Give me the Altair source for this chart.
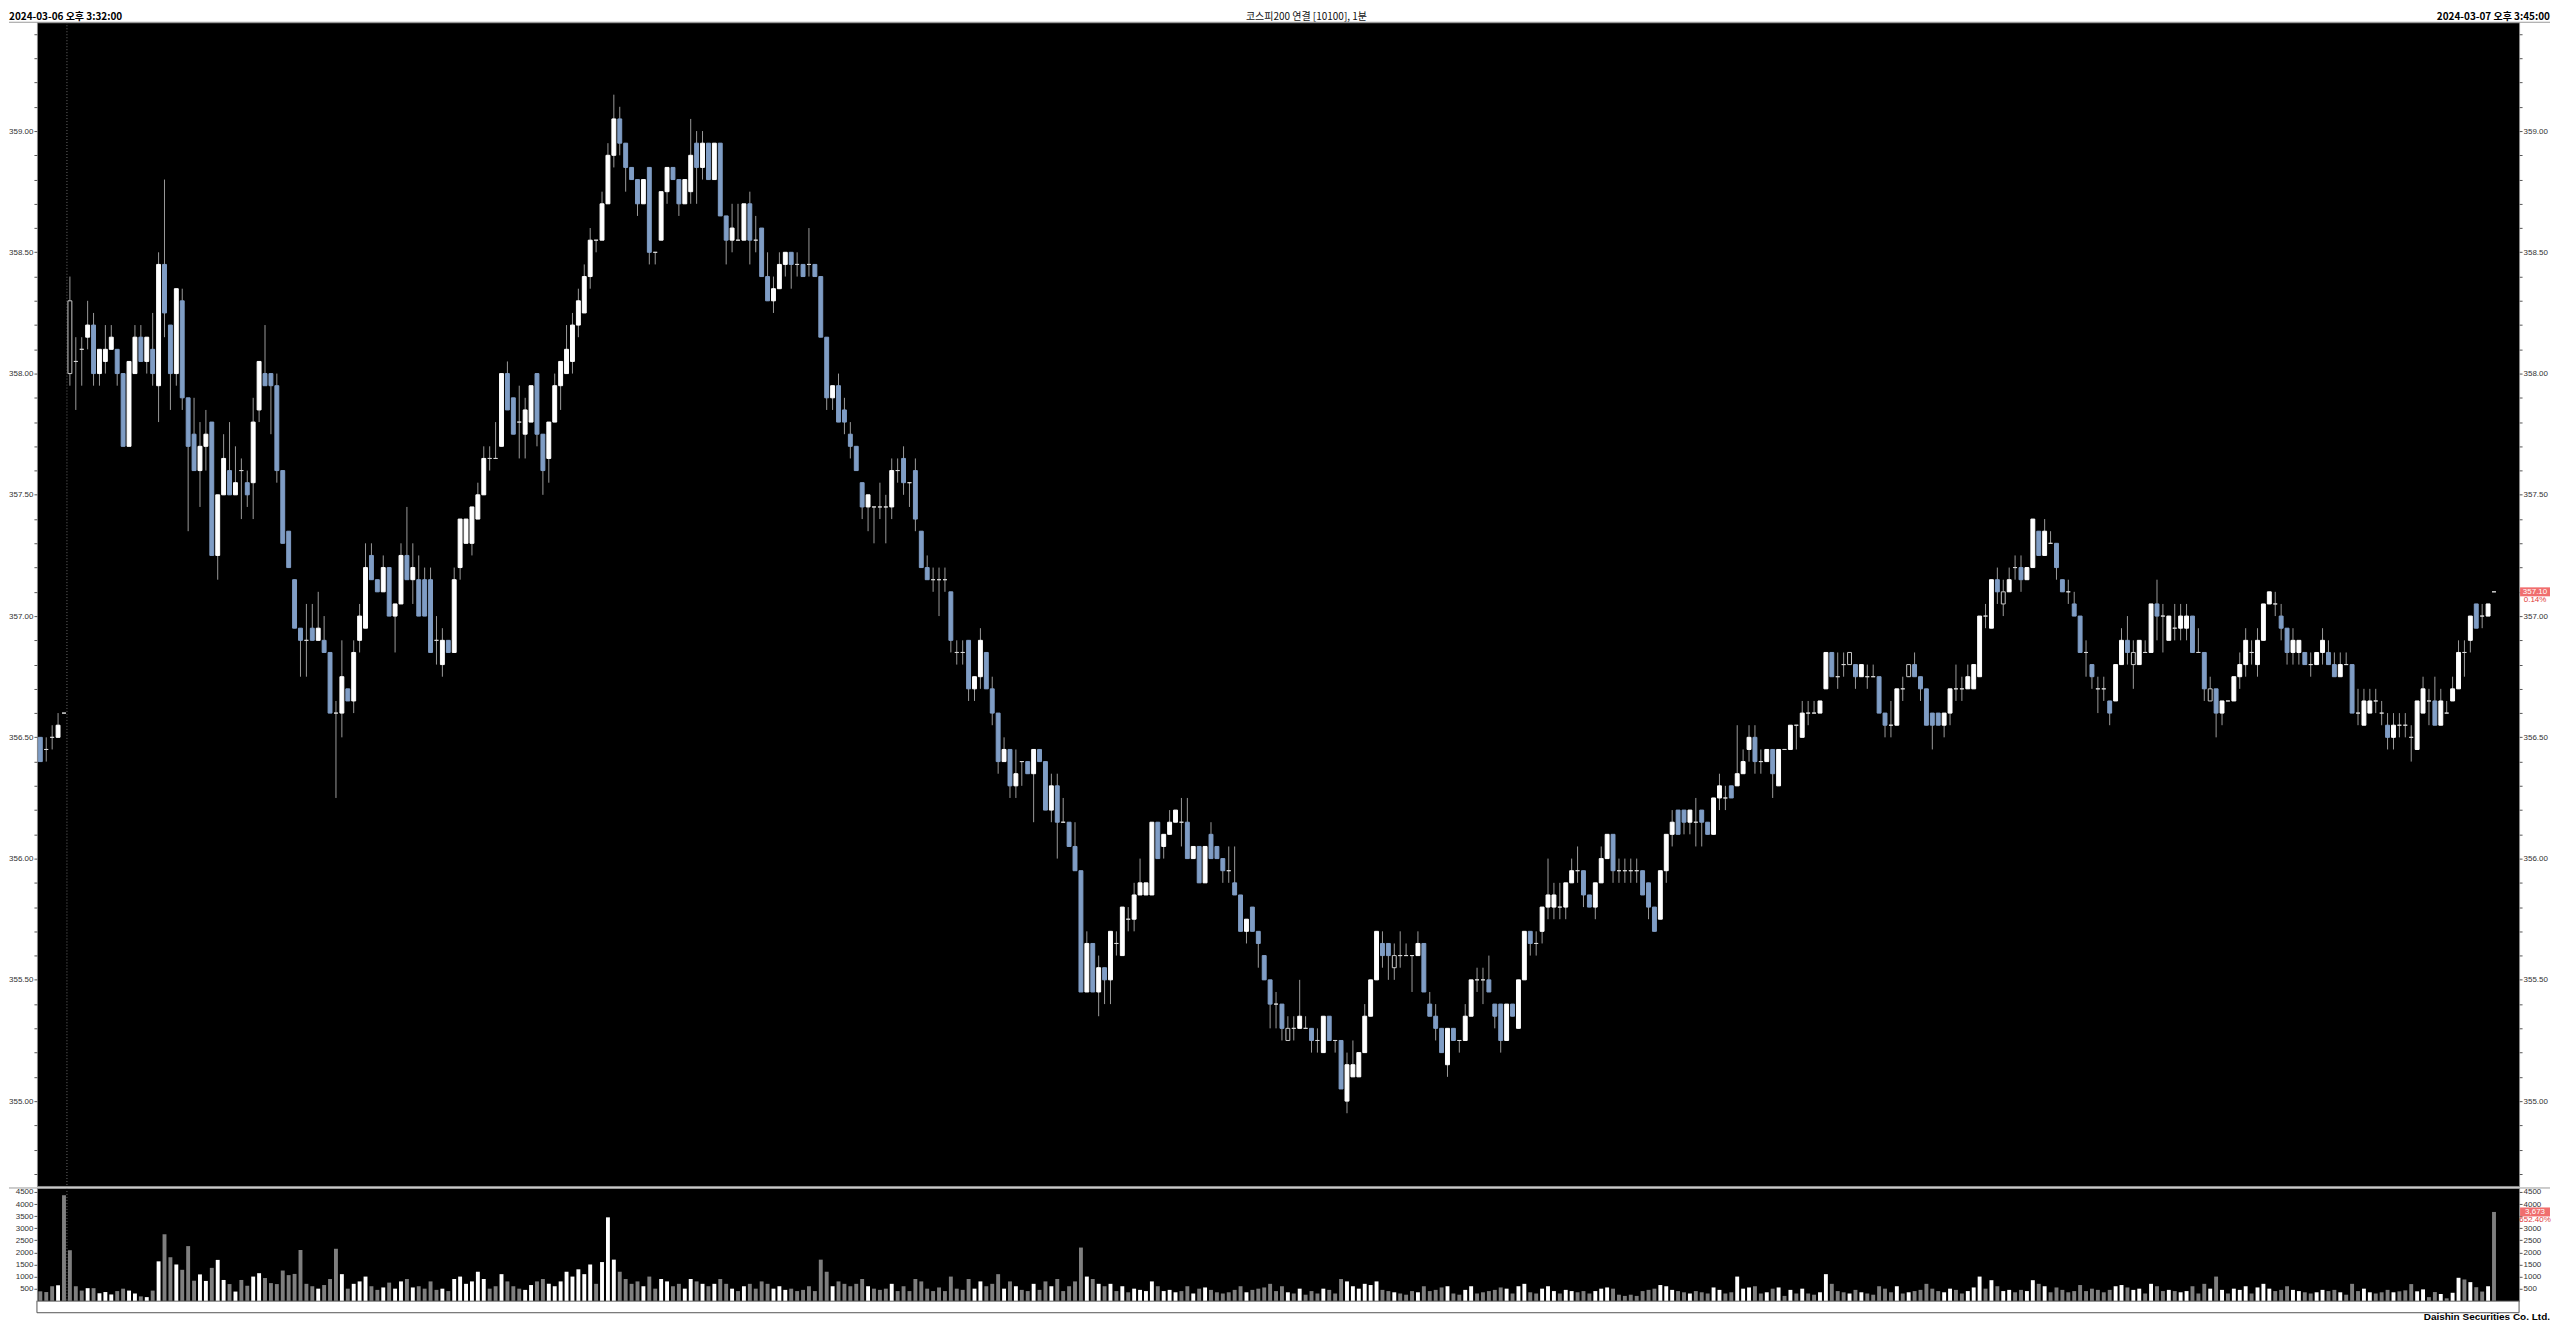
import altair as alt
import pandas as pd

# ---------------- values ----------------
opens = [
    356.50, 356.45, 356.50, 356.50, 356.60, 358.30, 358.05, 358.10, 358.15, 358.20, 358.00, 358.05, 358.10, 358.10, 358.00, 357.70, 358.00, 358.15, 358.05, 358.10,
    357.95, 358.45, 358.20, 358.00, 358.30, 357.90, 357.75, 357.60, 357.70, 357.80, 357.25, 357.50, 357.60, 357.50, 357.60, 357.55, 357.55, 357.85, 358.00, 358.00,
    357.95, 357.60, 357.35, 357.15, 356.95, 356.90, 356.95, 356.90, 356.90, 356.85, 356.60, 356.60, 356.70, 356.65, 356.90, 356.95, 357.25, 357.15, 357.10, 357.20,
    357.00, 357.05, 357.25, 357.15, 357.15, 357.15, 357.15, 356.90, 356.80, 356.90, 356.85, 357.20, 357.30, 357.30, 357.40, 357.50, 357.65, 357.65, 357.70, 358.00,
    357.90, 357.80, 357.75, 357.80, 358.00, 357.75, 357.65, 357.80, 357.95, 358.00, 358.05, 358.20, 358.25, 358.40, 358.55, 358.55, 358.70, 358.90, 359.05, 358.95,
    358.85, 358.80, 358.70, 358.85, 358.50, 358.55, 358.75, 358.85, 358.80, 358.70, 358.75, 358.95, 358.85, 358.95, 358.80, 358.95, 358.65, 358.55, 358.55, 358.55,
    358.70, 358.55, 358.60, 358.40, 358.30, 358.35, 358.45, 358.50, 358.45, 358.45, 358.45, 358.45, 358.40, 358.15, 357.90, 357.95, 357.85, 357.75, 357.70, 357.55,
    357.45, 357.45, 357.45, 357.45, 357.45, 357.60, 357.65, 357.55, 357.60, 357.35, 357.20, 357.15, 357.15, 357.15, 357.10, 356.85, 356.85, 356.90, 356.70, 356.75,
    356.85, 356.70, 356.60, 356.40, 356.45, 356.30, 356.40, 356.40, 356.35, 356.45, 356.40, 356.20, 356.30, 356.15, 356.15, 356.05, 355.95, 355.45, 355.65, 355.45,
    355.55, 355.50, 355.65, 355.60, 355.75, 355.75, 355.85, 355.85, 355.85, 356.15, 356.05, 356.10, 356.15, 356.15, 356.15, 356.00, 356.05, 355.90, 356.10, 356.05,
    356.00, 355.95, 355.90, 355.85, 355.70, 355.80, 355.70, 355.60, 355.50, 355.40, 355.40, 355.25, 355.30, 355.30, 355.30, 355.30, 355.25, 355.20, 355.35, 355.25,
    355.25, 355.00, 355.10, 355.10, 355.20, 355.35, 355.50, 355.65, 355.65, 355.55, 355.60, 355.60, 355.60, 355.60, 355.65, 355.40, 355.35, 355.30, 355.15, 355.30,
    355.25, 355.25, 355.35, 355.50, 355.50, 355.50, 355.40, 355.40, 355.25, 355.40, 355.30, 355.50, 355.70, 355.65, 355.70, 355.80, 355.80, 355.80, 355.80, 355.90,
    355.95, 355.95, 355.85, 355.80, 355.90, 356.00, 356.10, 355.95, 355.95, 355.95, 355.95, 355.95, 355.90, 355.80, 355.75, 355.95, 356.10, 356.20, 356.20, 356.15,
    356.15, 356.20, 356.15, 356.10, 356.25, 356.25, 356.30, 356.30, 356.35, 356.45, 356.50, 356.40, 356.40, 356.45, 356.30, 356.45, 356.45, 356.55, 356.50, 356.60,
    356.60, 356.60, 356.70, 356.85, 356.75, 356.80, 356.80, 356.80, 356.75, 356.75, 356.75, 356.75, 356.60, 356.55, 356.55, 356.70, 356.75, 356.80, 356.75, 356.70,
    356.60, 356.60, 356.55, 356.60, 356.70, 356.70, 356.70, 356.70, 356.75, 357.00, 356.95, 357.15, 357.05, 357.10, 357.20, 357.20, 357.15, 357.20, 357.35, 357.25,
    357.30, 357.30, 357.15, 357.10, 357.05, 357.00, 356.85, 356.80, 356.70, 356.70, 356.65, 356.65, 356.80, 356.90, 356.80, 356.80, 356.85, 356.85, 357.05, 357.00,
    356.90, 356.95, 356.95, 356.95, 357.00, 356.85, 356.85, 356.65, 356.70, 356.60, 356.65, 356.65, 356.75, 356.80, 356.85, 356.80, 356.90, 357.05, 357.05, 357.00,
    356.95, 356.85, 356.85, 356.85, 356.80, 356.80, 356.85, 356.85, 356.80, 356.75, 356.80, 356.80, 356.60, 356.55, 356.60, 356.65, 356.60, 356.55, 356.50, 356.55,
    356.55, 356.50, 356.45, 356.60, 356.65, 356.65, 356.55, 356.60, 356.65, 356.70, 356.85, 356.90, 357.05, 357.00, 357.00, 357.10,
]
highs = [
    356.50, 356.50, 356.55, 356.60, 356.60, 358.40, 358.15, 358.15, 358.30, 358.25, 358.10, 358.20, 358.20, 358.10, 358.00, 358.05, 358.20, 358.20, 358.15, 358.25,
    358.50, 358.80, 358.20, 358.35, 358.35, 357.90, 357.90, 357.80, 357.85, 357.80, 357.50, 357.75, 357.80, 357.70, 357.65, 357.60, 357.90, 358.05, 358.20, 358.00,
    358.00, 357.60, 357.35, 357.15, 356.95, 357.05, 357.05, 357.10, 357.00, 356.85, 356.65, 356.90, 356.70, 356.90, 357.05, 357.30, 357.30, 357.15, 357.25, 357.20,
    357.05, 357.30, 357.45, 357.30, 357.25, 357.20, 357.20, 357.00, 356.95, 356.90, 357.20, 357.40, 357.40, 357.45, 357.55, 357.70, 357.70, 357.80, 358.00, 358.05,
    357.90, 357.95, 357.90, 357.95, 358.00, 357.75, 357.80, 358.00, 358.05, 358.20, 358.25, 358.35, 358.45, 358.60, 358.55, 358.75, 358.95, 359.15, 359.10, 358.95,
    358.85, 358.80, 358.80, 358.85, 358.50, 358.75, 358.85, 358.85, 358.80, 358.80, 359.05, 359.00, 359.00, 358.95, 358.95, 358.95, 358.65, 358.70, 358.70, 358.70,
    358.75, 358.65, 358.60, 358.50, 358.40, 358.50, 358.50, 358.50, 358.50, 358.45, 358.60, 358.45, 358.40, 358.15, 357.95, 358.00, 357.90, 357.80, 357.70, 357.55,
    357.50, 357.45, 357.55, 357.50, 357.65, 357.65, 357.70, 357.55, 357.65, 357.35, 357.25, 357.20, 357.20, 357.20, 357.10, 356.90, 356.90, 356.90, 356.75, 356.95,
    356.85, 356.75, 356.60, 356.50, 356.45, 356.45, 356.40, 356.40, 356.45, 356.45, 356.40, 356.35, 356.35, 356.25, 356.15, 356.15, 355.95, 355.70, 355.65, 355.60,
    355.55, 355.70, 355.70, 355.80, 355.80, 355.90, 356.00, 355.90, 356.15, 356.15, 356.10, 356.20, 356.20, 356.25, 356.25, 356.05, 356.05, 356.05, 356.15, 356.05,
    356.00, 356.05, 356.05, 355.85, 355.75, 355.80, 355.70, 355.60, 355.50, 355.45, 355.40, 355.35, 355.35, 355.50, 355.35, 355.30, 355.30, 355.35, 355.35, 355.25,
    355.25, 355.20, 355.25, 355.20, 355.40, 355.50, 355.70, 355.70, 355.65, 355.65, 355.70, 355.65, 355.60, 355.70, 355.65, 355.45, 355.40, 355.30, 355.30, 355.30,
    355.25, 355.40, 355.50, 355.55, 355.55, 355.60, 355.40, 355.40, 355.40, 355.40, 355.50, 355.70, 355.70, 355.70, 355.80, 356.00, 355.90, 355.90, 355.90, 356.00,
    356.05, 355.95, 355.85, 355.90, 356.05, 356.10, 356.10, 356.00, 356.00, 356.00, 356.00, 355.95, 355.90, 355.80, 355.95, 356.10, 356.20, 356.20, 356.20, 356.20,
    356.25, 356.20, 356.15, 356.25, 356.35, 356.30, 356.30, 356.55, 356.45, 356.55, 356.55, 356.45, 356.45, 356.45, 356.45, 356.45, 356.55, 356.55, 356.65, 356.65,
    356.65, 356.65, 356.85, 356.85, 356.85, 356.85, 356.85, 356.80, 356.80, 356.80, 356.80, 356.75, 356.60, 356.65, 356.70, 356.75, 356.80, 356.85, 356.75, 356.70,
    356.60, 356.60, 356.60, 356.70, 356.80, 356.75, 356.80, 356.80, 357.00, 357.05, 357.15, 357.20, 357.15, 357.20, 357.25, 357.25, 357.20, 357.40, 357.35, 357.40,
    357.35, 357.30, 357.15, 357.15, 357.10, 357.00, 356.90, 356.80, 356.75, 356.75, 356.65, 356.80, 356.95, 357.00, 356.90, 356.90, 356.90, 357.05, 357.15, 357.05,
    357.00, 357.05, 357.05, 357.05, 357.00, 356.95, 356.85, 356.75, 356.70, 356.65, 356.65, 356.75, 356.85, 356.95, 356.90, 356.95, 357.05, 357.10, 357.10, 357.05,
    356.95, 356.95, 356.90, 356.85, 356.85, 356.85, 356.95, 356.90, 356.85, 356.85, 356.85, 356.80, 356.70, 356.70, 356.70, 356.70, 356.65, 356.60, 356.60, 356.60,
    356.60, 356.55, 356.65, 356.75, 356.70, 356.75, 356.70, 356.65, 356.75, 356.90, 356.90, 357.00, 357.05, 357.05, 357.05, 357.10,
]
lows = [
    356.40, 356.40, 356.45, 356.50, 356.60, 357.95, 357.85, 357.95, 358.10, 357.95, 357.95, 358.00, 358.10, 357.95, 357.70, 357.70, 358.00, 358.05, 358.00, 357.95,
    357.80, 358.15, 357.85, 357.95, 357.85, 357.35, 357.60, 357.45, 357.60, 357.25, 357.15, 357.50, 357.50, 357.50, 357.40, 357.45, 357.40, 357.80, 357.95, 357.75,
    357.55, 357.30, 357.20, 356.95, 356.75, 356.75, 356.90, 356.90, 356.85, 356.60, 356.25, 356.50, 356.65, 356.60, 356.85, 356.95, 357.15, 357.10, 357.10, 357.00,
    356.85, 357.05, 357.15, 357.05, 357.00, 357.00, 356.85, 356.80, 356.75, 356.85, 356.85, 357.15, 357.30, 357.25, 357.40, 357.50, 357.60, 357.65, 357.70, 357.85,
    357.75, 357.65, 357.65, 357.80, 357.70, 357.50, 357.55, 357.80, 357.85, 358.00, 358.00, 358.15, 358.25, 358.35, 358.50, 358.55, 358.70, 358.85, 358.90, 358.75,
    358.80, 358.65, 358.70, 358.45, 358.45, 358.55, 358.70, 358.80, 358.65, 358.70, 358.70, 358.70, 358.80, 358.80, 358.80, 358.65, 358.45, 358.50, 358.55, 358.55,
    358.45, 358.50, 358.40, 358.30, 358.25, 358.35, 358.40, 358.35, 358.40, 358.40, 358.40, 358.40, 358.15, 357.85, 357.85, 357.80, 357.75, 357.65, 357.60, 357.40,
    357.35, 357.30, 357.40, 357.30, 357.40, 357.55, 357.50, 357.45, 357.35, 357.20, 357.15, 357.10, 357.00, 357.10, 356.85, 356.80, 356.80, 356.65, 356.65, 356.70,
    356.70, 356.55, 356.35, 356.40, 356.25, 356.25, 356.30, 356.35, 356.15, 356.40, 356.20, 356.15, 356.00, 356.15, 356.05, 355.95, 355.45, 355.45, 355.45, 355.35,
    355.40, 355.40, 355.60, 355.60, 355.70, 355.70, 355.85, 355.85, 355.85, 356.00, 356.00, 356.10, 356.15, 356.05, 356.00, 356.00, 355.90, 355.90, 356.00, 356.00,
    355.90, 355.90, 355.85, 355.70, 355.65, 355.70, 355.55, 355.50, 355.30, 355.30, 355.25, 355.25, 355.25, 355.30, 355.30, 355.20, 355.20, 355.20, 355.25, 355.20,
    355.05, 354.95, 355.10, 355.10, 355.20, 355.35, 355.50, 355.55, 355.50, 355.50, 355.55, 355.60, 355.45, 355.60, 355.45, 355.35, 355.25, 355.20, 355.10, 355.25,
    355.20, 355.25, 355.35, 355.45, 355.40, 355.45, 355.30, 355.20, 355.25, 355.35, 355.30, 355.50, 355.60, 355.60, 355.65, 355.75, 355.75, 355.75, 355.75, 355.90,
    355.90, 355.80, 355.80, 355.75, 355.90, 356.00, 355.90, 355.90, 355.90, 355.90, 355.90, 355.85, 355.75, 355.70, 355.75, 355.90, 356.05, 356.10, 356.10, 356.10,
    356.05, 356.05, 356.10, 356.10, 356.20, 356.20, 356.25, 356.30, 356.35, 356.40, 356.35, 356.35, 356.40, 356.25, 356.30, 356.45, 356.45, 356.45, 356.50, 356.55,
    356.60, 356.60, 356.70, 356.75, 356.70, 356.75, 356.80, 356.70, 356.75, 356.70, 356.75, 356.60, 356.50, 356.50, 356.55, 356.65, 356.75, 356.75, 356.65, 356.55,
    356.45, 356.55, 356.50, 356.55, 356.65, 356.65, 356.70, 356.70, 356.75, 356.95, 356.95, 357.05, 357.00, 357.10, 357.15, 357.10, 357.15, 357.20, 357.25, 357.25,
    357.30, 357.15, 357.10, 357.05, 357.00, 356.85, 356.75, 356.70, 356.60, 356.65, 356.55, 356.65, 356.80, 356.80, 356.70, 356.80, 356.85, 356.85, 356.90, 356.85,
    356.90, 356.90, 356.90, 356.90, 356.85, 356.85, 356.65, 356.65, 356.50, 356.55, 356.65, 356.65, 356.70, 356.75, 356.80, 356.75, 356.90, 357.05, 357.00, 356.90,
    356.80, 356.80, 356.80, 356.80, 356.75, 356.80, 356.80, 356.80, 356.75, 356.75, 356.80, 356.60, 356.55, 356.55, 356.60, 356.60, 356.55, 356.45, 356.45, 356.50,
    356.50, 356.40, 356.45, 356.60, 356.55, 356.55, 356.55, 356.60, 356.65, 356.70, 356.75, 356.85, 356.95, 356.95, 357.00, 357.10,
]
closes = [
    356.40, 356.45, 356.50, 356.55, 356.60, 358.00, 358.05, 358.10, 358.20, 358.00, 358.10, 358.10, 358.15, 358.00, 357.70, 358.05, 358.15, 358.05, 358.15, 358.00,
    358.45, 358.25, 358.00, 358.35, 357.90, 357.70, 357.60, 357.70, 357.75, 357.25, 357.50, 357.65, 357.50, 357.55, 357.60, 357.50, 357.80, 358.05, 357.95, 357.95,
    357.60, 357.30, 357.20, 356.95, 356.90, 356.90, 356.90, 356.95, 356.85, 356.60, 356.60, 356.75, 356.65, 356.85, 357.00, 357.20, 357.15, 357.10, 357.20, 357.00,
    357.05, 357.25, 357.15, 357.20, 357.00, 357.00, 356.85, 356.90, 356.90, 356.85, 357.15, 357.40, 357.40, 357.45, 357.50, 357.65, 357.65, 357.65, 358.00, 357.85,
    357.75, 357.80, 357.85, 357.95, 357.75, 357.60, 357.80, 357.95, 358.05, 358.10, 358.20, 358.30, 358.40, 358.55, 358.55, 358.70, 358.90, 359.05, 358.95, 358.85,
    358.80, 358.70, 358.80, 358.50, 358.50, 358.75, 358.85, 358.80, 358.70, 358.80, 358.90, 358.85, 358.95, 358.80, 358.95, 358.65, 358.55, 358.60, 358.55, 358.70,
    358.55, 358.55, 358.40, 358.30, 358.35, 358.45, 358.50, 358.45, 358.45, 358.40, 358.45, 358.40, 358.15, 357.90, 357.95, 357.80, 357.80, 357.70, 357.60, 357.45,
    357.50, 357.45, 357.45, 357.45, 357.60, 357.60, 357.55, 357.55, 357.40, 357.20, 357.15, 357.15, 357.15, 357.15, 356.90, 356.85, 356.85, 356.70, 356.75, 356.90,
    356.70, 356.60, 356.40, 356.45, 356.30, 356.35, 356.40, 356.35, 356.45, 356.40, 356.20, 356.30, 356.15, 356.15, 356.05, 355.95, 355.45, 355.65, 355.45, 355.55,
    355.50, 355.70, 355.65, 355.80, 355.75, 355.85, 355.90, 355.90, 356.15, 356.00, 356.10, 356.15, 356.20, 356.15, 356.00, 356.05, 355.90, 356.05, 356.00, 356.00,
    355.95, 355.95, 355.85, 355.70, 355.75, 355.70, 355.65, 355.50, 355.40, 355.40, 355.30, 355.30, 355.30, 355.35, 355.30, 355.25, 355.25, 355.35, 355.25, 355.25,
    355.05, 355.15, 355.15, 355.20, 355.35, 355.50, 355.70, 355.60, 355.60, 355.60, 355.60, 355.60, 355.60, 355.65, 355.45, 355.35, 355.30, 355.20, 355.30, 355.25,
    355.25, 355.35, 355.50, 355.50, 355.50, 355.45, 355.35, 355.25, 355.40, 355.35, 355.50, 355.70, 355.65, 355.65, 355.80, 355.85, 355.85, 355.80, 355.90, 355.95,
    355.95, 355.85, 355.80, 355.90, 356.00, 356.10, 355.95, 355.95, 355.95, 355.95, 355.95, 355.85, 355.80, 355.70, 355.95, 356.10, 356.15, 356.10, 356.15, 356.20,
    356.15, 356.15, 356.10, 356.25, 356.30, 356.25, 356.25, 356.35, 356.40, 356.50, 356.40, 356.40, 356.45, 356.35, 356.45, 356.45, 356.55, 356.55, 356.60, 356.60,
    356.60, 356.65, 356.85, 356.75, 356.75, 356.80, 356.85, 356.75, 356.80, 356.75, 356.75, 356.60, 356.55, 356.55, 356.70, 356.70, 356.80, 356.75, 356.70, 356.55,
    356.55, 356.55, 356.60, 356.70, 356.70, 356.70, 356.75, 356.80, 357.00, 357.00, 357.15, 357.10, 357.10, 357.15, 357.20, 357.15, 357.20, 357.40, 357.25, 357.35,
    357.30, 357.20, 357.10, 357.10, 357.00, 356.85, 356.85, 356.75, 356.70, 356.70, 356.60, 356.80, 356.90, 356.85, 356.85, 356.90, 356.85, 357.05, 357.00, 357.00,
    357.00, 356.95, 357.00, 357.00, 356.85, 356.85, 356.70, 356.70, 356.60, 356.65, 356.65, 356.75, 356.80, 356.90, 356.85, 356.90, 357.05, 357.10, 357.05, 356.95,
    356.85, 356.90, 356.90, 356.80, 356.80, 356.85, 356.90, 356.80, 356.75, 356.80, 356.80, 356.60, 356.60, 356.65, 356.65, 356.65, 356.60, 356.50, 356.55, 356.55,
    356.55, 356.50, 356.65, 356.70, 356.65, 356.55, 356.65, 356.60, 356.70, 356.85, 356.85, 357.00, 356.95, 357.00, 357.05, 357.10,
]
volumes = [
    390, 360, 600, 640, 4365, 2090, 600, 420, 520, 520, 310, 360, 260, 400, 500, 420, 300, 180, 150, 420,
    1630, 2750, 1800, 1500, 1280, 2260, 830, 1090, 820, 1360, 1690, 860, 690, 380, 860, 620, 1000, 1140, 940, 730,
    690, 1250, 1060, 1110, 2100, 700, 600, 500, 650, 900, 2150, 1100, 500, 700, 800, 1000, 600, 450, 550, 750,
    500, 800, 900, 550, 600, 500, 800, 450, 500, 400, 900, 1000, 700, 800, 1200, 900, 500, 600, 1100, 800,
    600, 500, 450, 650, 800, 900, 700, 600, 800, 1200, 1000, 1300, 1100, 1500, 700, 1600, 3450, 1700, 1200, 900,
    700, 800, 600, 1000, 500, 900, 800, 600, 700, 500, 900, 800, 700, 600, 700, 900, 700, 500, 400, 600,
    700, 500, 800, 700, 500, 600, 450, 500, 400, 450, 600, 400, 1700, 1200, 600, 800, 700, 600, 700, 900,
    600, 500, 450, 500, 700, 400, 600, 400, 900, 800, 500, 400, 550, 400, 1000, 500, 450, 900, 500, 800,
    600, 700, 1100, 500, 800, 600, 450, 400, 700, 450, 800, 600, 900, 400, 600, 800, 2200, 1000, 900, 700,
    600, 700, 400, 600, 350, 500, 450, 400, 800, 600, 400, 450, 350, 400, 600, 300, 500, 550, 450, 350,
    300, 350, 450, 600, 350, 450, 500, 550, 700, 400, 600, 350, 300, 500, 250, 400, 300, 500, 450, 300,
    900, 800, 600, 500, 700, 650, 800, 450, 400, 350, 300, 250, 400, 350, 600, 400, 450, 550, 600, 300,
    250, 450, 600, 300, 350, 400, 450, 550, 500, 300, 600, 700, 350, 300, 500, 600, 400, 300, 450, 400,
    350, 400, 300, 400, 500, 550, 500, 250, 200, 250, 200, 400, 450, 500, 650, 600, 450, 400, 350, 300,
    400, 350, 300, 550, 450, 300, 350, 1000, 500, 550, 600, 300, 350, 500, 550, 200, 450, 300, 500, 300,
    250, 350, 1100, 700, 400, 350, 300, 450, 350, 300, 250, 600, 500, 350, 600, 300, 350, 400, 450, 700,
    500, 400, 350, 500, 450, 300, 400, 550, 1000, 500, 850, 600, 400, 450, 350, 450, 400, 850, 700, 600,
    350, 550, 450, 350, 400, 650, 400, 500, 450, 350, 450, 600, 650, 550, 450, 500, 300, 700, 600, 400,
    450, 400, 350, 400, 600, 300, 700, 500, 1000, 450, 300, 500, 450, 600, 300, 550, 700, 500, 400, 450,
    600, 450, 400, 350, 300, 350, 450, 400, 450, 350, 250, 700, 400, 500, 350, 300, 350, 450, 350,
    390, 430, 690, 390, 470, 150, 360, 280, 100, 330, 950, 880, 770, 560, 380, 600, 3673,
]
hollow_bars = [5, 211, 229, 306, 316, 332, 354, 367]
date_change = [4.5]
x_tick_pos = [4.5, 19.5, 79.5, 139.5, 199.5, 259.5, 319.5, 379.5]
x_tick_labels = ["3/7", "9", "10", "11", "12", "13", "14", "15"]
volume_ticks = [500, 1000, 1500, 2000, 2500, 3000, 3500, 4000, 4500]
last_price = [357.10]
last_price_label = ["357.10"]
last_change = ["0.14%"]
last_volume = [3673]
last_volume_label = ["3,673"]
volume_change = ["652.40%"]
header_left = "2024-03-06 오후 3:32:00"
header_title = "코스피200 연결 [10100], 1분"
header_right = "2024-03-07 오후 3:45:00"
footer = "Daishin Securities Co. Ltd."

n = len(closes)
assert len(opens) == n and len(highs) == n and len(lows) == n and len(volumes) == n, (
    len(opens), len(highs), len(lows), len(closes), len(volumes))

# ---------------- layout / style ----------------
W, HP, HV = 2487, 1166, 113
x_domain = [-0.574, 419.24]
price_domain = [354.650, 359.4486]
volume_domain = [0, 4665]
price_ticks = [round(354.7 + 0.1 * k, 1) for k in range(48)]
FONT = "Liberation Sans"
KFONT = "Noto Sans CJK KR"
UP_COL, DOWN_COL = "#ffffff", "#7f9dc5"
FILL = {"up": UP_COL, "down": DOWN_COL, "flat": "#d8d8d8", "hollow": "#000000"}
STROKE = {"up": UP_COL, "down": DOWN_COL, "flat": "#d8d8d8", "hollow": "#c8c8c8"}

kinds = []
for k in range(n):
    if k in hollow_bars:
        kinds.append("hollow")
    elif closes[k] > opens[k]:
        kinds.append("up")
    elif closes[k] < opens[k]:
        kinds.append("down")
    else:
        kinds.append("flat")

df = pd.DataFrame({
    "i": list(range(n)), "open": opens, "high": highs, "low": lows,
    "close": closes, "volume": volumes,
})
df["fillc"] = [FILL[k] for k in kinds]
df["strokec"] = [STROKE[k] for k in kinds]
df["volc"] = ["#ffffff" if c > o else "#7f7f7f" for o, c in zip(opens, closes)]
df["x1"] = df["i"] - 0.33
df["x2"] = df["i"] + 0.33
df["zero"] = 0

xs = alt.Scale(domain=x_domain, nice=False, zero=False)
ys = alt.Scale(domain=price_domain, nice=False, zero=False)
vs = alt.Scale(domain=volume_domain, nice=False, zero=False)

price_label_expr = "(abs(datum.value * 2 - round(datum.value * 2)) < 0.001) ? format(datum.value, '.2f') : ''"


def price_axis(orient):
    return alt.Axis(orient=orient, values=price_ticks, labelExpr=price_label_expr, tickSize=3,
                    tickColor="#555555", domain=False, grid=False, title=None, labelFont=FONT,
                    labelFontSize=8, labelColor="#333333", labelPadding=1, labelOverlap=False,
                    labelFlush=False, minExtent=28, maxExtent=28)


def volume_axis(orient, expr="datum.label"):
    return alt.Axis(orient=orient, values=volume_ticks, format="d", tickSize=3, labelExpr=expr,
                    tickColor="#555555", domain=False, grid=False, title=None, labelFont=FONT,
                    labelFontSize=8, labelColor="#333333", labelPadding=1, labelOverlap=False,
                    labelFlush=False, minExtent=28, maxExtent=28)


base = alt.Chart(df)

wicks = base.mark_rule(color="#9a9a9a", strokeWidth=1).encode(
    x=alt.X("i:Q", scale=xs, axis=None),
    y=alt.Y("low:Q", scale=ys, axis=price_axis("left")),
    y2="high:Q",
)
bodies = base.mark_rect(strokeWidth=1).encode(
    x=alt.X("x1:Q", scale=xs, axis=None), x2="x2:Q",
    y=alt.Y("open:Q", scale=ys, axis=None), y2="close:Q",
    fill=alt.Fill("fillc:N", scale=None),
    stroke=alt.Stroke("strokec:N", scale=None),
)
right_price = alt.Chart(pd.DataFrame({"p": price_domain})).mark_rule(opacity=0).encode(
    y=alt.Y("p:Q", scale=ys, axis=price_axis("right")))

dline_df = pd.DataFrame({"x": date_change})
dotted_p = alt.Chart(dline_df).mark_rule(color="#6a6a6a", strokeDash=[1, 2]).encode(
    x=alt.X("x:Q", scale=xs, axis=None))

half_p = 4.5 * (price_domain[1] - price_domain[0]) / HP
pbox = pd.DataFrame({"p": last_price, "top": [v + half_p for v in last_price],
                     "bot": [v - half_p for v in last_price],
                     "label": last_price_label, "pct": last_change})
pbox_rect = alt.Chart(pbox).mark_rect(color="#f06e6e").encode(
    x=alt.value(W + 1), x2=alt.value(W + 31),
    y=alt.Y("top:Q", scale=ys, axis=None), y2="bot:Q")
pbox_text = alt.Chart(pbox).mark_text(color="white", font=FONT, fontSize=8).encode(
    x=alt.value(W + 16), y=alt.Y("p:Q", scale=ys, axis=None), text="label:N")
pbox_pct = alt.Chart(pbox).mark_text(color="#e0393b", font=FONT, fontSize=8, dy=8).encode(
    x=alt.value(W + 16), y=alt.Y("p:Q", scale=ys, axis=None), text="pct:N")

one = pd.DataFrame({"a": [0]})
sep_top = alt.Chart(one).mark_rule(color="#9a9a9a").encode(
    x=alt.value(-28), x2=alt.value(W + 31), y=alt.value(0))
HEAD_Y = -5
h_left = alt.Chart(pd.DataFrame({"t": [header_left]})).mark_text(
    align="left", baseline="middle", font=KFONT, fontSize=10, fontWeight="bold", color="black").encode(
    x=alt.value(-28), y=alt.value(HEAD_Y), text="t:N")
h_mid = alt.Chart(pd.DataFrame({"t": [header_title]})).mark_text(
    align="center", baseline="middle", font=KFONT, fontSize=10, color="#111111").encode(
    x=alt.value(1272), y=alt.value(HEAD_Y), text="t:N")
h_right = alt.Chart(pd.DataFrame({"t": [header_right]})).mark_text(
    align="right", baseline="middle", font=KFONT, fontSize=10, fontWeight="bold", color="black").encode(
    x=alt.value(W + 31), y=alt.value(HEAD_Y), text="t:N")

price_chart = alt.layer(
    dotted_p, wicks, bodies, right_price, pbox_rect, pbox_text, pbox_pct,
    sep_top, h_left, h_mid, h_right,
).properties(width=W, height=HP).resolve_axis(y="independent")

# ---------------- volume panel ----------------
x_label_expr = " : ".join(f"datum.value == {p} ? '{l}'" for p, l in zip(x_tick_pos, x_tick_labels)) + " : ''"

vbars = base.mark_rect().encode(
    x=alt.X("x1:Q", scale=xs, axis=alt.Axis(
        values=x_tick_pos, labelExpr=x_label_expr, tickSize=3, tickColor="#555555",
        domain=False, grid=False, title=None, labelFont=FONT, labelFontSize=9,
        labelColor="#333333", labelPadding=0, labelOverlap=False, labelFlush=False)),
    x2="x2:Q",
    y=alt.Y("volume:Q", scale=vs, axis=volume_axis("left")), y2="zero:Q",
    fill=alt.Fill("volc:N", scale=None),
)
right_vol = alt.Chart(pd.DataFrame({"v": volume_domain})).mark_rule(opacity=0).encode(
    y=alt.Y("v:Q", scale=vs, axis=volume_axis(
        "right", "(datum.value == 3500) ? '' : datum.label")))
dotted_v = alt.Chart(dline_df).mark_rule(color="#6a6a6a", strokeDash=[1, 2]).encode(
    x=alt.X("x:Q", scale=xs, axis=None))

half_v = 4.5 * (volume_domain[1] - volume_domain[0]) / HV
vbox = pd.DataFrame({"v": last_volume, "top": [v + half_v for v in last_volume],
                     "bot": [v - half_v for v in last_volume],
                     "label": last_volume_label, "pct": volume_change})
vbox_rect = alt.Chart(vbox).mark_rect(color="#f06e6e").encode(
    x=alt.value(W + 1), x2=alt.value(W + 31),
    y=alt.Y("top:Q", scale=vs, axis=None), y2="bot:Q")
vbox_text = alt.Chart(vbox).mark_text(color="white", font=FONT, fontSize=8).encode(
    x=alt.value(W + 16), y=alt.Y("v:Q", scale=vs, axis=None), text="label:N")
vbox_pct = alt.Chart(vbox).mark_text(color="#e0393b", font=FONT, fontSize=8, dy=8).encode(
    x=alt.value(W + 16), y=alt.Y("v:Q", scale=vs, axis=None), text="pct:N")

sep_vol = alt.Chart(one).mark_rule(color="#9a9a9a").encode(
    x=alt.value(-28), x2=alt.value(W + 31), y=alt.value(0))
frame_bottom = alt.Chart(one).mark_rule(color="#555555").encode(
    x=alt.value(0), x2=alt.value(W), y=alt.value(HV + 12))
frame_left = alt.Chart(one).mark_rule(color="#555555").encode(
    x=alt.value(0), y=alt.value(HV), y2=alt.value(HV + 12))
frame_right = alt.Chart(one).mark_rule(color="#555555").encode(
    x=alt.value(W), y=alt.value(HV), y2=alt.value(HV + 12))
foot = alt.Chart(pd.DataFrame({"t": [footer]})).mark_text(
    align="right", baseline="bottom", font=FONT, fontSize=10, fontWeight="bold", color="black").encode(
    x=alt.value(W + 31), y=alt.value(HV + 21), text="t:N")

volume_chart = alt.layer(
    dotted_v, vbars, right_vol, vbox_rect, vbox_text, vbox_pct,
    sep_vol, frame_bottom, frame_left, frame_right, foot,
).properties(width=W, height=HV).resolve_axis(y="independent")

chart = alt.vconcat(price_chart, volume_chart, spacing=0).properties(
    background="white", padding={"left": 0, "top": 2, "right": 0, "bottom": 0}
).configure_view(fill="black", stroke="#8c8c8c", strokeWidth=1)

chart.save("out.html", embed_options={"renderer": "svg", "actions": False})
